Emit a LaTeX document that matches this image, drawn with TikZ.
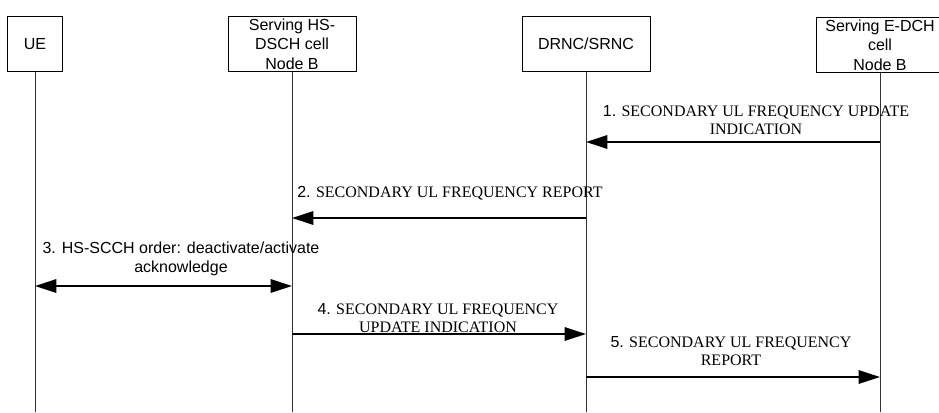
\documentclass[tikz,border=0pt]{standalone}
\usepackage{fontspec}
\setmainfont{Liberation Serif}
\newfontfamily\arialfont{Liberation Sans}
\usetikzlibrary{arrows.meta}
\usetikzlibrary{positioning}
\tikzset{
    entity/.style={
        rectangle,
        draw=black,
        line width=0.75pt,
        fill=white,
        align=center,
        minimum width=96pt,
        minimum height=41pt,
        inner sep=0pt,
        font=\arialfont\fontsize{12}{14.5}\selectfont
    },
    lifeline/.style={
        draw=black!80,
        line width=0.75pt
    },
    msg/.style={
        >={Triangle[length=16pt,width=10pt]},
        line width=1.5pt,
        draw=black
    },
    msgtext/.style={
        align=center,
        inner sep=0pt,
        font=\fontsize{12}{14}\selectfont
    }
}

\begin{document}
\begin{tikzpicture}[x=0.75pt, y=-0.75pt]
        \useasboundingbox (0,0) rectangle (939,412);

        % Entities
        \node (ue) [entity, minimum width=41pt] at (35,44) {UE};
        \node (hs) [entity] at (292,44) {Serving HS-\\DSCH cell\\Node B};
        \node (drnc) [entity] at (586,44) {DRNC/SRNC};
        \node (edch) [entity] at (880,45) {Serving E-DCH\\cell\\Node B};

        % Lifelines
        \coordinate (bottom) at (0,412);
        \draw [lifeline] (ue.south) -- (ue.south |- bottom);
        \draw [lifeline] (hs.south) -- (hs.south |- bottom);
        \draw [lifeline] (drnc.south) -- (drnc.south |- bottom);
        \draw [lifeline] (edch.south) -- (edch.south |- bottom);

        % Message levels
        \coordinate (m1) at (0,142);
        \coordinate (m2) at (0,218);
        \coordinate (m3) at (0,286);
        \coordinate (m4) at (0,334);
        \coordinate (m5) at (0,377);

        % Messages
        \draw [msg, ->] (edch |- m1) -- (drnc |- m1);
        \draw [msg, ->] (drnc |- m2) -- (hs |- m2);
        \draw [msg, <->] (ue |- m3) -- (hs |- m3);
        \draw [msg, ->] (hs |- m4) -- (drnc |- m4);
        \draw [msg, ->] (drnc |- m5) -- (edch |- m5);

        % Message labels
        \node (m1text) [msgtext] at (756,120) {{\arialfont 1.} SECONDARY UL FREQUENCY UPDATE\\INDICATION};
        \node (m2text) [msgtext] at (450,193) {{\arialfont 2.} SECONDARY UL FREQUENCY REPORT};
        \node (m3text) [msgtext, font=\arialfont\fontsize{12}{14}\selectfont] at (181,259) {3. HS-SCCH order: deactivate/activate\\acknowledge};
        \node (m4text) [msgtext] at (438,318) {{\arialfont 4.} SECONDARY UL FREQUENCY\\UPDATE INDICATION};
        \node (m5text) [msgtext] at (731,351) {{\arialfont 5.} SECONDARY UL FREQUENCY\\REPORT};
\end{tikzpicture}
\end{document}
